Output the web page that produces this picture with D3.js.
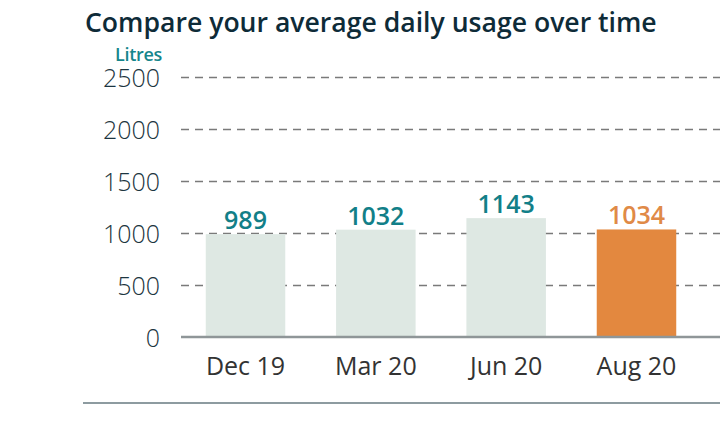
<!DOCTYPE html>
<html>
<head>
<meta charset="utf-8">
<script src="https://cdn.jsdelivr.net/npm/d3@7"></script>
<style>
  body { margin: 0; background: #fff; }
  svg { display: block; }
  svg text { font-family: "Open Sans", sans-serif; }
</style>
</head>
<body>
<svg class="bar-chart"></svg>
<script>
// values
const periods = ["Dec 19", "Mar 20", "Jun 20", "Aug 20"];
const usage = [989, 1032, 1143, 1034];
const yTicks = [0, 500, 1000, 1500, 2000, 2500];
const current = "Aug 20";

function drawChart() {
    let svgWidth = 720, svgHeight = 437;
    let svg = d3.select('.bar-chart')
        .attr("width", svgWidth)
        .attr("height", svgHeight);

    let data = periods.map((p, i) => ({ period: p, value: usage[i] }));

    let x = d3.scaleBand()
        .domain(periods)
        .range([181, 701])
        .paddingInner(0.39)
        .paddingOuter(0.19);

    let y = d3.scaleLinear()
        .domain([0, 2500])
        .range([337, 77]);

    // title
    svg.append("text")
        .attr("x", 85)
        .attr("y", 32)
        .attr("fill", "#0e2b38")
        .attr("font-size", 26.6)
        .attr("font-weight", 600)
        .text("Compare your average daily usage over time");

    // unit label
    svg.append("text")
        .attr("x", 162)
        .attr("y", 61)
        .attr("text-anchor", "end")
        .attr("fill", "#16868c")
        .attr("font-size", 18)
        .attr("font-weight", 600)
        .attr("letter-spacing", -0.3)
        .text("Litres");

    // gridlines + y labels
    let yAxis = svg.append("g")
        .attr("transform", "translate(181,0)")
        .attr("font-family", null)
        .call(d3.axisLeft(y).tickValues(yTicks).tickFormat(d3.format("d"))
            .tickSize(-(svgWidth - 181)).tickPadding(20));
    yAxis.select(".domain").remove();
    yAxis.selectAll(".tick line")
        .attr("stroke", "#7a7a7a")
        .attr("stroke-width", 1.5)
        .attr("stroke-dasharray", "8,6")
        .attr("opacity", d => d === 0 ? 0 : 1);
    yAxis.selectAll(".tick text")
        .attr("fill", "#1c3540")
        .attr("font-size", 25)
        .attr("font-weight", 300)
        .attr("dy", "0.38em")
        .attr("x", -21);

    // bars
    svg.selectAll(".bar")
        .data(data)
        .enter().append("rect")
        .attr("class", "bar")
        .attr("x", d => x(d.period))
        .attr("width", x.bandwidth())
        .attr("y", d => y(d.value))
        .attr("height", d => y(0) - y(d.value))
        .attr("fill", d => d.period === current ? "#e3883f" : "#dee8e3");

    // value labels
    svg.selectAll(".value")
        .data(data)
        .enter().append("text")
        .attr("class", "value")
        .attr("x", d => x(d.period) + x.bandwidth() / 2)
        .attr("y", d => y(d.value) - 5)
        .attr("text-anchor", "middle")
        .attr("fill", d => d.period === current ? "#e08a47" : "#127f88")
        .attr("font-size", 25)
        .attr("font-weight", 600)
        .text(d => d.value);

    // x axis
    let xAxis = svg.append("g")
        .attr("transform", "translate(0," + y(0) + ")")
        .call(d3.axisBottom(x).tickSize(0).tickPadding(20));
    xAxis.select(".domain")
        .attr("d", "M181,0H" + svgWidth)
        .attr("stroke", "#8f9698")
        .attr("stroke-width", 2.5);
    xAxis.selectAll(".tick text")
        .attr("fill", "#333")
        .attr("font-size", 25)
        .attr("font-weight", 400)
        .attr("dy", "0.71em");

    // footer rule
    svg.append("line")
        .attr("x1", 83).attr("x2", svgWidth)
        .attr("y1", 403).attr("y2", 403)
        .attr("stroke", "#8d9ba0")
        .attr("stroke-width", 2);
}

drawChart();
</script>
</body>
</html>
